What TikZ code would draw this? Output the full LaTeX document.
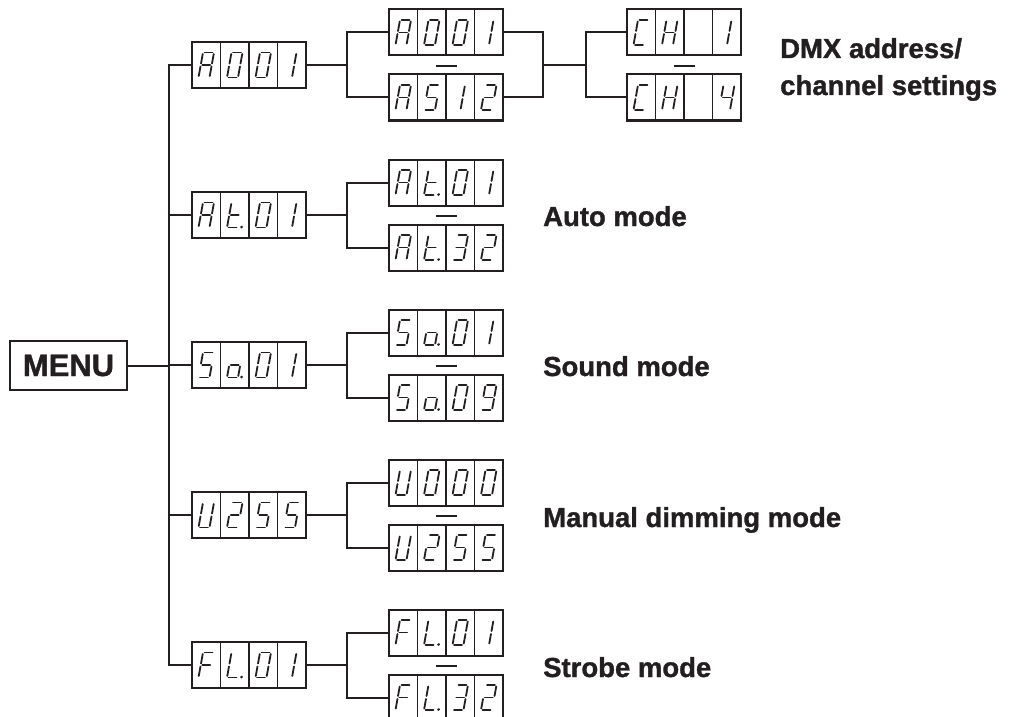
\documentclass[tikz,border=0pt]{standalone}
\usepackage{fontspec}
\setmainfont{Liberation Sans}[BoldFeatures={FakeBold=1.2}]
\usetikzlibrary{calc}
\definecolor{ink}{RGB}{35,31,32}
\tikzset{
  conn/.style={draw=ink, line width=2pt},
  dispbox/.style={draw=ink, line width=2pt, minimum width=114pt, minimum height=46pt, inner sep=0pt, outer sep=0pt},
  cellline/.style={draw=ink, line width=1.6pt},
  segline/.style={draw=ink, line width=1.8pt, line cap=round},
  sepline/.style={draw=ink, line width=2pt},
  modelabel/.style={anchor=base west, inner sep=0pt, font=\bfseries\fontsize{27.5}{30}\selectfont, text=ink},
  menubox/.style={draw=ink, line width=2.2pt, minimum width=117pt, minimum height=49pt, inner sep=0pt, font=\bfseries\fontsize{31}{34}\selectfont, text=ink}
}
% seven-segment elements (local coords, y downwards)
\newcommand\SgA{\draw[segline] (-4,-12.5) -- (4,-12.5);}
\newcommand\SgB{\draw[segline] (5.5,-11) -- (5.5,-1.5);}
\newcommand\SgC{\draw[segline] (5.5,1.5) -- (5.5,11);}
\newcommand\SgD{\draw[segline] (-4,12.5) -- (4,12.5);}
\newcommand\SgE{\draw[segline] (-5.5,1.5) -- (-5.5,11);}
\newcommand\SgF{\draw[segline] (-5.5,-11) -- (-5.5,-1.5);}
\newcommand\SgG{\draw[segline] (-4,0) -- (4,0);}
\newcommand\SgP{\fill[ink] (9,12) circle (1.5pt);}
% characters
\newcommand\dgA{\SgA\SgB\SgC\SgE\SgF\SgG}
\newcommand\dgZero{\SgA\SgB\SgC\SgD\SgE\SgF}
\newcommand\dgOne{\begin{scope}[xshift=-3pt]\SgB\SgC\end{scope}}
\newcommand\dgTwo{\SgA\SgB\SgG\SgE\SgD}
\newcommand\dgThree{\SgA\SgB\SgG\SgC\SgD}
\newcommand\dgFour{\SgF\SgG\SgB\SgC}
\newcommand\dgFive{\SgA\SgF\SgG\SgC\SgD}
\newcommand\dgNine{\SgA\SgB\SgC\SgD\SgF\SgG}
\newcommand\dgC{\SgA\SgF\SgE\SgD}
\newcommand\dgH{\SgB\SgC\SgE\SgF\SgG}
\newcommand\dgt{\SgD\SgE\SgF\SgG\SgP}
\newcommand\dgo{\SgC\SgD\SgE\SgG\SgP}
\newcommand\dgU{\SgB\SgC\SgD\SgE\SgF}
\newcommand\dgF{\SgA\SgE\SgF\SgG}
\newcommand\dgL{\SgD\SgE\SgF\SgP}
\newcommand\dgBlank{}
\newcommand\glyphat[3]{\begin{scope}[shift={($(#1.west)!#2!(#1.east)$)}, xslant=0.18] #3 \end{scope}}
\newcommand\dispnode[6]{%
  \node[dispbox] (#1) at #2 {};
  \foreach \f in {0.25,0.5,0.75}
    \draw[cellline] ($(#1.north west)!\f!(#1.north east)$) -- ($(#1.south west)!\f!(#1.south east)$);
  \glyphat{#1}{0.125}{#3}
  \glyphat{#1}{0.375}{#4}
  \glyphat{#1}{0.625}{#5}
  \glyphat{#1}{0.875}{#6}
}
\begin{document}
\begin{tikzpicture}[x=1pt, y=-1pt]
\useasboundingbox (0,0) rectangle (1013,717);
% MENU
\node[menubox] (menu) at (68.5,365.5) {MENU};
% level 1
\dispnode{d1}{(249,65)}{\dgA}{\dgZero}{\dgZero}{\dgOne}
\dispnode{d2}{(249,215)}{\dgA}{\dgt}{\dgZero}{\dgOne}
\dispnode{d3}{(249,365)}{\dgFive}{\dgo}{\dgZero}{\dgOne}
\dispnode{d4}{(249,515)}{\dgU}{\dgTwo}{\dgFive}{\dgFive}
\dispnode{d5}{(249,665)}{\dgF}{\dgL}{\dgZero}{\dgOne}
% level 2
\dispnode{a1}{(446,32.5)}{\dgA}{\dgZero}{\dgZero}{\dgOne}
\dispnode{a2}{(446,97.5)}{\dgA}{\dgFive}{\dgOne}{\dgTwo}
\dispnode{b1}{(446,182.5)}{\dgA}{\dgt}{\dgZero}{\dgOne}
\dispnode{b2}{(446,247.5)}{\dgA}{\dgt}{\dgThree}{\dgTwo}
\dispnode{s1}{(446,332.5)}{\dgFive}{\dgo}{\dgZero}{\dgOne}
\dispnode{s2}{(446,397.5)}{\dgFive}{\dgo}{\dgZero}{\dgNine}
\dispnode{u1}{(446,482.5)}{\dgU}{\dgZero}{\dgZero}{\dgZero}
\dispnode{u2}{(446,547.5)}{\dgU}{\dgTwo}{\dgFive}{\dgFive}
\dispnode{f1}{(446,632.5)}{\dgF}{\dgL}{\dgZero}{\dgOne}
\dispnode{f2}{(446,697.5)}{\dgF}{\dgL}{\dgThree}{\dgTwo}
% level 3
\dispnode{c1}{(684,32.5)}{\dgC}{\dgH}{\dgBlank}{\dgOne}
\dispnode{c2}{(684,97.5)}{\dgC}{\dgH}{\dgBlank}{\dgFour}
% connector junctions
\coordinate (tm) at (169,365.5);
\coordinate (j1) at (347,65);
\coordinate (j2) at (347,215);
\coordinate (j3) at (347,365);
\coordinate (j4) at (347,515);
\coordinate (j5) at (347,665);
\coordinate (r1) at (543,65);
\coordinate (k1) at (586,65);
% main trunk
\draw[conn] (d1.west) -| (tm) |- (d5.west);
\draw[conn] (menu.east) -- (tm);
\draw[conn] (d2.west) -- (d2.west -| tm);
\draw[conn] (d3.west) -- (d3.west -| tm);
\draw[conn] (d4.west) -- (d4.west -| tm);
% level-1 to level-2 brackets
\draw[conn] (d1.east) -- (j1);
\draw[conn] (a1.west) -| (j1) |- (a2.west);
\draw[conn] (d2.east) -- (j2);
\draw[conn] (b1.west) -| (j2) |- (b2.west);
\draw[conn] (d3.east) -- (j3);
\draw[conn] (s1.west) -| (j3) |- (s2.west);
\draw[conn] (d4.east) -- (j4);
\draw[conn] (u1.west) -| (j4) |- (u2.west);
\draw[conn] (d5.east) -- (j5);
\draw[conn] (f1.west) -| (j5) |- (f2.west);
% level-2 to level-3
\draw[conn] (a1.east) -| (r1) |- (a2.east);
\draw[conn] (r1) -- (k1);
\draw[conn] (c1.west) -| (k1) |- (c2.west);
% range dashes
\foreach \p/\q in {a1/a2, b1/b2, s1/s2, u1/u2, f1/f2, c1/c2}
  \draw[sepline] ($(\p.south)!0.5!(\q.north)+(-10.5,1)$) -- ($(\p.south)!0.5!(\q.north)+(10.5,1)$);
% labels
\node[modelabel] (lbl1) at (780,58) {DMX address/};
\node[modelabel] (lbl1b) at (780,95) {channel settings};
\node[modelabel] (lbl2) at (543,226) {Auto mode};
\node[modelabel] (lbl3) at (543,376) {Sound mode};
\node[modelabel] (lbl4) at (543,527) {Manual dimming mode};
\node[modelabel] (lbl5) at (543,677) {Strobe mode};
\end{tikzpicture}
\end{document}
